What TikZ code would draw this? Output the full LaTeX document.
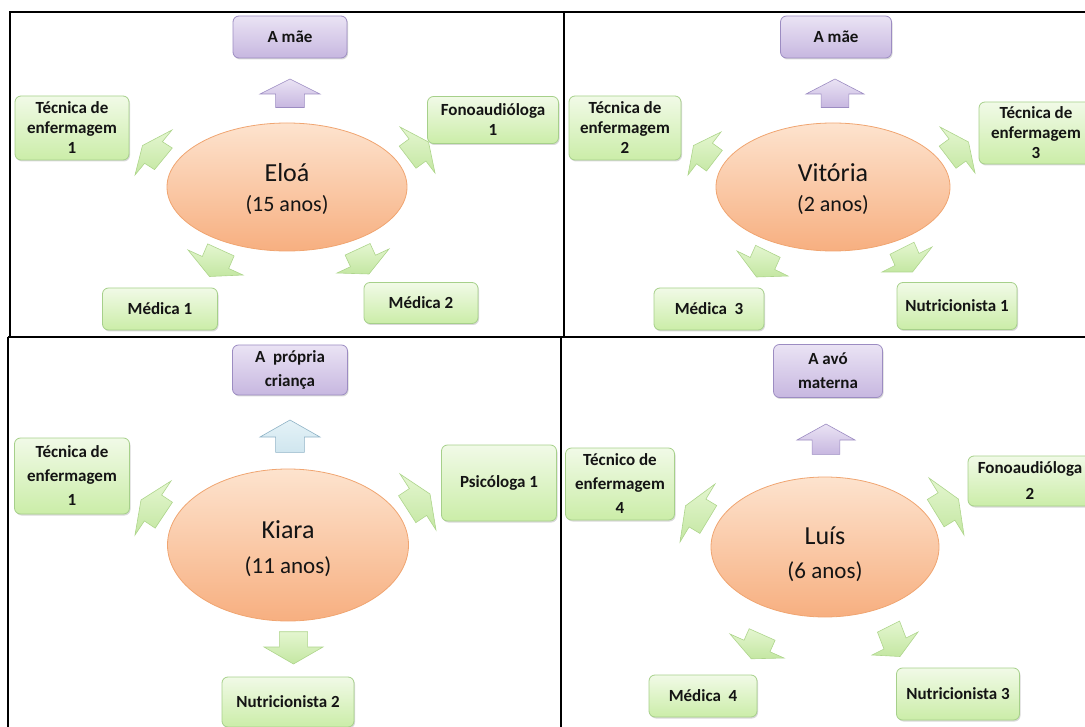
\documentclass[tikz,border=0pt]{standalone}
\usepackage{fontspec}
\setmainfont{Carlito}
\usetikzlibrary{shadows,shapes.geometric}
\definecolor{gtop}{HTML}{F1FAE7}
\definecolor{gbot}{HTML}{CBEDA8}
\definecolor{gline}{HTML}{A6D08A}
\definecolor{ptop}{HTML}{EAE3F4}
\definecolor{pbot}{HTML}{C7B7E0}
\definecolor{pline}{HTML}{9C8CC2}
\definecolor{etop}{HTML}{FDE3CE}
\definecolor{ebot}{HTML}{F7AF80}
\definecolor{eline}{HTML}{F0A571}
\definecolor{atop}{HTML}{E4F6D0}
\definecolor{abot}{HTML}{C4E7A2}
\definecolor{aline}{HTML}{AED58C}
\definecolor{btop}{HTML}{E4F2F7}
\definecolor{bbot}{HTML}{D0E6EF}
\definecolor{bline}{HTML}{8FB3C6}
\definecolor{txt}{HTML}{141414}
% block arrow: style, centre of head base (cx,cy), half head base (ux,uy), tip offset (vx,vy), shaft factor
\newcommand{\blockarr}[8]{%
  \path[#1] ({#2+(#4)},{#3+(#5)}) -- ({#2+(#6)},{#3+(#7)}) -- ({#2-(#4)},{#3-(#5)})
   -- ({#2-0.48*(#4)},{#3-0.48*(#5)}) -- ({#2-0.48*(#4)-#8*(#6)},{#3-0.48*(#5)-#8*(#7)})
   -- ({#2+0.48*(#4)-#8*(#6)},{#3+0.48*(#5)-#8*(#7)}) -- ({#2+0.48*(#4)},{#3+0.48*(#5)}) -- cycle;}
% name, age, height of first line
\newcommand{\kidname}[3]{{\fontsize{26}{30}\selectfont\rule{0pt}{#3pt}#1}\\\rule[-6pt]{0pt}{6pt}#2}
\tikzset{
 boxbase/.style={rounded corners=6pt, line width=0.8pt, inner sep=0pt, align=center, text=txt,
   font=\bfseries\fontsize{17}{20}\selectfont,
   drop shadow={opacity=0.3, shadow xshift=1pt, shadow yshift=-1.5pt}},
 gbox/.style={boxbase, draw=gline, top color=gtop, bottom color=gbot},
 pbox/.style={boxbase, draw=pline, top color=ptop, bottom color=pbot},
 kid/.style={ellipse, draw=eline, line width=0.8pt, top color=etop, bottom color=ebot,
   inner sep=0pt, align=center, text=txt},
 garrow/.style={draw=aline, line width=0.6pt, top color=atop, bottom color=abot},
 parrow/.style={draw=pline, line width=0.6pt, top color=ptop, bottom color=pbot},
 blarrow/.style={draw=bline, line width=0.6pt, top color=btop, bottom color=bbot},
 frame/.style={line width=2.2pt, black},
}
\begin{document}
\begin{tikzpicture}[x=1pt,y=-1pt]
\useasboundingbox (0,0) rectangle (1085,727);
\clip (0,0) rectangle (1085,727);
% frames
\draw[frame] (10,337) -- (10,12) -- (1085,12);
\draw[frame] (564,12) -- (564,337);
\draw[frame] (8,337) -- (1085,337);
\draw[frame] (8,337) -- (8,727);
\draw[frame] (561,337) -- (561,727);

% ---------- panel 1: Eloa
\node[kid, minimum width=240pt, minimum height=128pt, font=\fontsize{22}{30}\selectfont] (k1) at (287,187) {\kidname{Eloá}{(15 anos)}{26}};
\node[pbox, minimum width=114pt, minimum height=42pt] (m1) at (290,37) {A mãe};
\node[gbox, minimum width=114pt, minimum height=64pt] (t1) at (72,128) {Técnica de\\enfermagem\\1};
\node[gbox, minimum width=131pt, minimum height=47pt] (f1) at (493,120) {Fonoaudióloga\\1};
\node[gbox, minimum width=115pt, minimum height=42pt] (d1) at (160,309) {Médica 1};
\node[gbox, minimum width=114pt, minimum height=41pt] (d2) at (421,303) {Médica 2};
\blockarr{parrow}{290}{94}{30}{0}{0}{-15}{0.9}
\blockarr{garrow}{153.5}{152.5}{18.5}{-22.5}{-11}{-7}{0.9}
\blockarr{garrow}{417.5}{150}{-17.5}{-23}{11}{-8}{0.9}
\blockarr{garrow}{215.5}{262.5}{27.5}{12.5}{-6}{14}{0.9}
\blockarr{garrow}{363}{261}{-26}{12}{6}{13}{0.9}

% ---------- panel 2: Vitoria
\node[kid, minimum width=234pt, minimum height=128pt, font=\fontsize{22}{30}\selectfont] (k2) at (833,187) {\kidname{Vitória}{(2 anos)}{26}};
\node[pbox, minimum width=111pt, minimum height=42pt] (m2) at (836,37) {A mãe};
\node[gbox, minimum width=112pt, minimum height=64pt] (t2) at (625,128) {Técnica de\\enfermagem\\2};
\node[gbox, minimum width=114pt, minimum height=62pt] (t3) at (1036,133) {Técnica de\\enfermagem\\3};
\node[gbox, minimum width=110pt, minimum height=42pt] (d3) at (709,309) {Médica~ 3};
\node[gbox, minimum width=120pt, minimum height=47pt] (n1) at (957,306) {Nutricionista 1};
\blockarr{parrow}{835}{94}{29}{0}{0}{-15}{0.9}
\blockarr{garrow}{704.5}{153.5}{16.5}{-21.5}{-11}{-8}{0.9}
\blockarr{garrow}{957.5}{150}{-17.5}{-23}{11}{-8}{0.9}
\blockarr{garrow}{762.5}{263.5}{25.5}{12.5}{-6}{13.5}{0.9}
\blockarr{garrow}{907}{259.5}{-25}{12.5}{5.5}{12.5}{0.9}

% ---------- panel 3: Kiara
\node[kid, minimum width=241pt, minimum height=152pt, font=\fontsize{23}{35}\selectfont] (k3) at (288,545) {\kidname{Kiara}{(11 anos)}{27}};
\node[pbox, minimum width=115pt, minimum height=50pt, font=\bfseries\fontsize{17}{24}\selectfont] (m3) at (290,370) {A~ própria\\criança};
\node[gbox, minimum width=115pt, minimum height=76pt, font=\bfseries\fontsize{17}{24}\selectfont] (t4) at (72,476) {Técnica de\\enfermagem\\1};
\node[gbox, minimum width=115pt, minimum height=76pt] (p1) at (499,483) {Psicóloga 1};
\node[gbox, minimum width=132pt, minimum height=50pt] (n2) at (288,702) {Nutricionista 2};
\blockarr{blarrow}{290}{437}{30}{0}{0}{-17}{0.9}
\blockarr{garrow}{153}{508}{18}{-27}{-12}{-8}{0.9}
\blockarr{garrow}{418}{502}{-18}{-28}{12}{-8}{0.9}
\blockarr{garrow}{293.5}{647}{29.5}{0}{0}{17}{0.9}

% ---------- panel 4: Luis
\node[kid, minimum width=228pt, minimum height=140pt, font=\fontsize{23}{34}\selectfont] (k4) at (825,547) {\kidname{Luís}{(6 anos)}{35}};
\node[pbox, minimum width=109pt, minimum height=53pt, font=\bfseries\fontsize{17}{24}\selectfont] (m4) at (828,371) {A avó\\materna};
\node[gbox, minimum width=109pt, minimum height=72pt, font=\bfseries\fontsize{17}{24}\selectfont] (t5) at (620,484) {Técnico de\\enfermagem\\4};
\node[gbox, minimum width=124pt, minimum height=50pt, font=\bfseries\fontsize{17}{26}\selectfont] (f2) at (1030,481) {Fonoaudióloga\\2};
\node[gbox, minimum width=108pt, minimum height=42pt] (d4) at (703,696) {Médica~ 4};
\node[gbox, minimum width=123pt, minimum height=52pt] (n3) at (958,694) {Nutricionista 3};
\blockarr{parrow}{826}{440}{29}{0}{0}{-16}{0.9}
\blockarr{garrow}{697.5}{513}{17.5}{-29}{-12}{-7.2}{0.9}
\blockarr{garrow}{946.5}{506.5}{-17.5}{-28.5}{12}{-7.4}{0.9}
\blockarr{garrow}{757}{646}{27}{12}{-5.7}{12.8}{0.9}
\blockarr{garrow}{895}{643.5}{-23}{11.5}{5}{13}{1.3}
\end{tikzpicture}
\end{document}
